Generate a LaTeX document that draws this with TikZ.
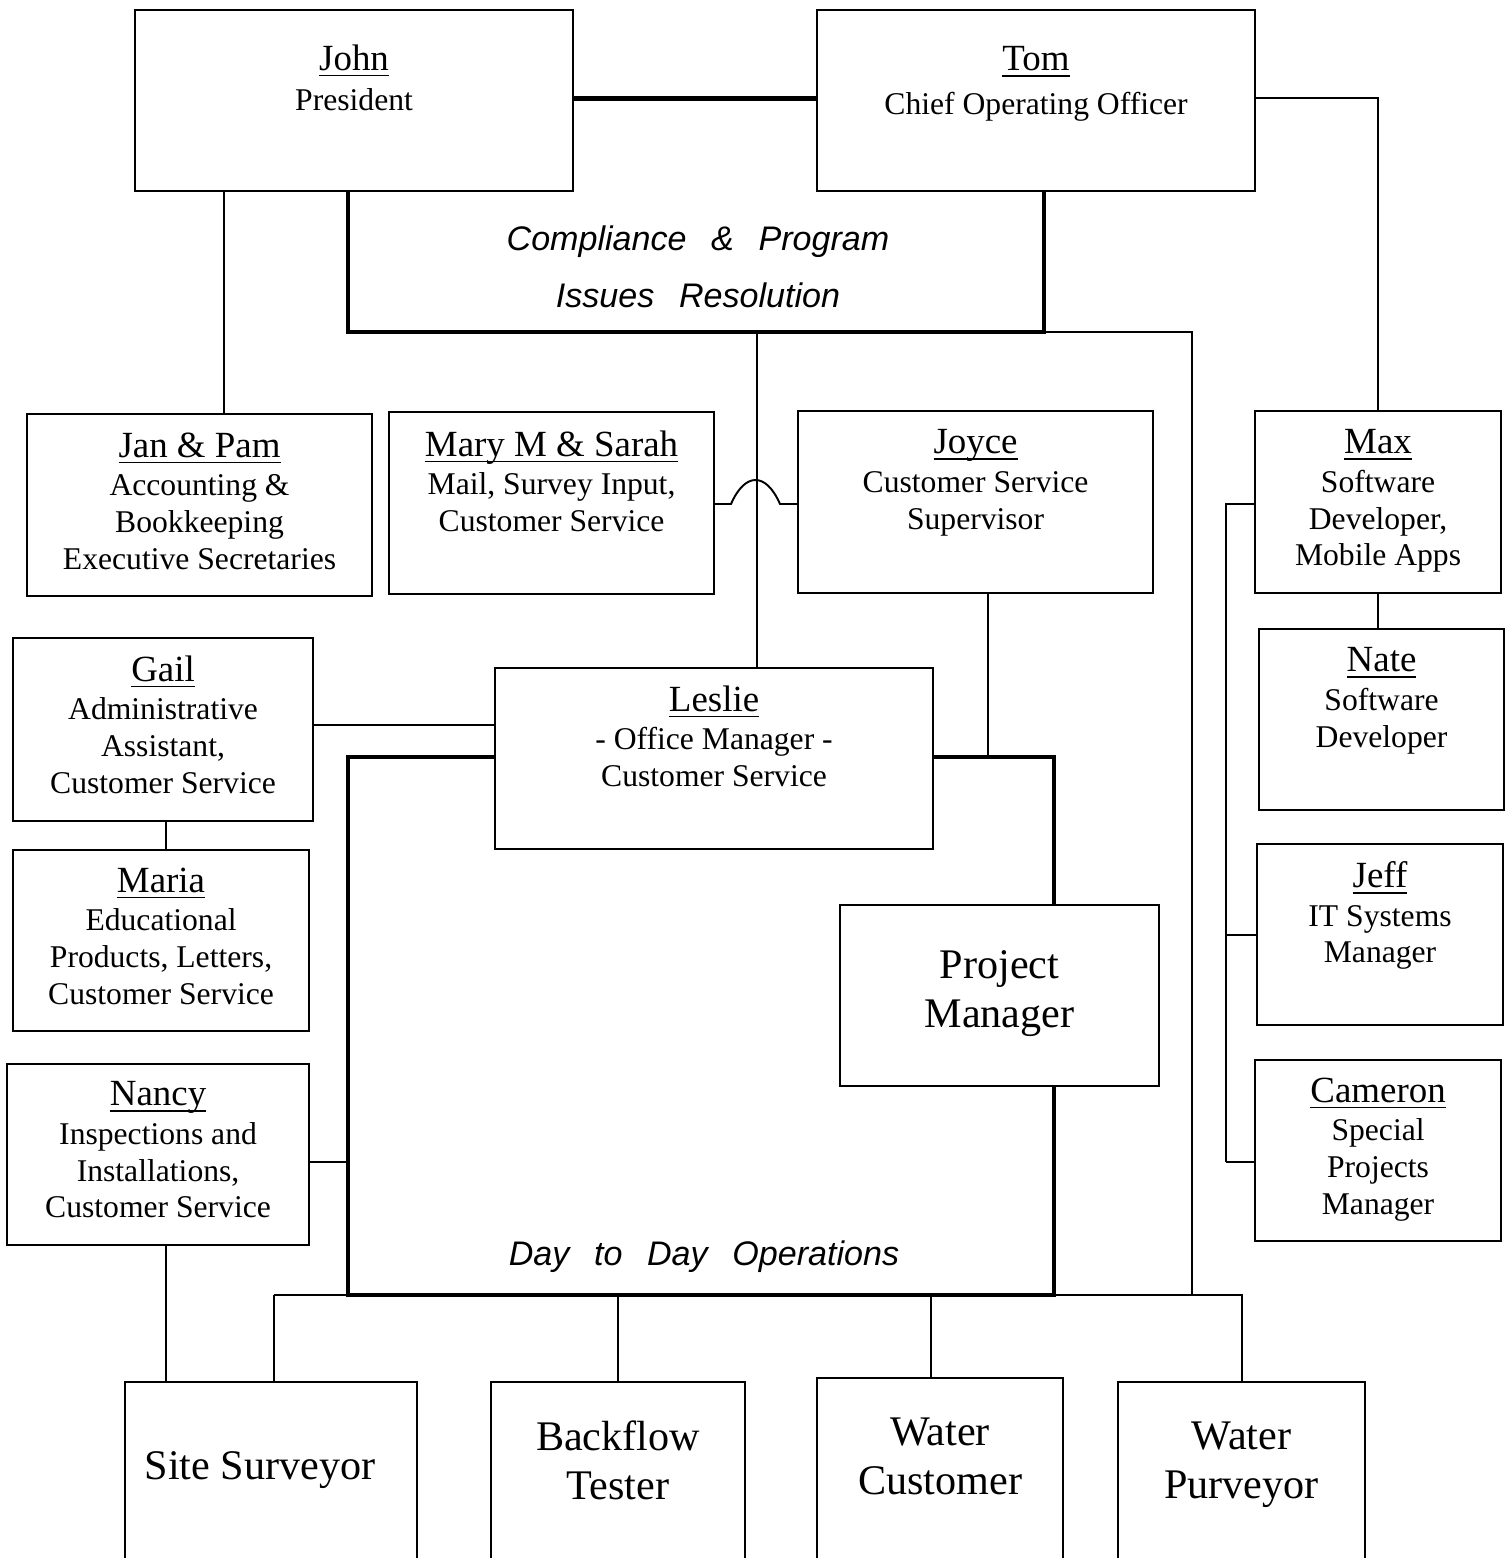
\documentclass[tikz,border=0pt]{standalone}
\usepackage{amsmath}
\usepackage{fontspec}
\setmainfont{Liberation Serif}
\newfontfamily\opsfont[WordSpace=2.6]{Liberation Sans}
\usetikzlibrary{positioning}

\newcommand{\who}[1]{{\fontsize{10.5}{11}\selectfont\underline{\smash[b]{#1}}}}

\tikzset{
  box/.style 2 args={draw, line width=0.6pt, anchor=north west, inner sep=0pt,
    minimum width=#1cm, minimum height=#2cm},
  role/.style={align=center, inner sep=0pt, font=\fontsize{9}{10.45}\selectfont},
  big/.style={align=center, inner sep=0pt, font=\fontsize{12}{14}\selectfont},
  ops/.style={align=center, inner sep=0pt, font=\opsfont\itshape\fontsize{9.7}{16.2}\selectfont},
  link/.style={line width=0.55pt},
  heavy/.style={line width=1.4pt}
}

\begin{document}
\begin{tikzpicture}
\useasboundingbox[fill=white] (0,0) rectangle (15.1,-15.58);

% top level
\node[box={4.38}{1.81}] (john) at (1.34,-0.09) {};
\node[box={4.38}{1.81}] (tom) at (8.16,-0.09) {};
\node[role, below=0.35cm of john.north] (johnT) {\who{John}\\[1pt] President};
\node[role, below=0.37cm of tom.north] (tomT) {\who{Tom}\\[2pt] Chief Operating Officer};

% staff row
\node[box={3.45}{1.82}] (janpam) at (0.26,-4.13) {};
\node[box={3.25}{1.82}] (mary) at (3.88,-4.11) {};
\node[box={3.55}{1.82}] (joyce) at (7.97,-4.10) {};
\node[box={2.46}{1.82}] (max) at (12.54,-4.10) {};
\node[role, below=0.19cm of janpam.north] (janpamT) {\who{Jan \& Pam}\\[0.5pt] Accounting \&\\ Bookkeeping\\ Executive Secretaries};
\node[role, below=0.19cm of mary.north] (maryT) {\who{Mary M \& Sarah}\\[0.5pt] Mail, Survey Input,\\ Customer Service};
\node[role, below=0.19cm of joyce.north] (joyceT) {\who{Joyce}\\[0.5pt] Customer Service\\ Supervisor};
\node[role, below=0.19cm of max.north] (maxT) {\who{Max}\\[0.5pt] Software\\ Developer,\\ Mobile Apps};

% office
\node[box={3.00}{1.83}] (gail) at (0.12,-6.37) {};
\node[box={4.38}{1.81}] (leslie) at (4.94,-6.67) {};
\node[box={2.45}{1.81}] (nate) at (12.58,-6.28) {};
\node[box={2.96}{1.81}] (maria) at (0.12,-8.49) {};
\node[box={2.46}{1.81}] (jeff) at (12.56,-8.43) {};
\node[box={3.19}{1.81}] (pm) at (8.39,-9.04) {};
\node[box={3.02}{1.81}] (nancy) at (0.06,-10.63) {};
\node[box={2.46}{1.81}] (cameron) at (12.54,-10.59) {};
\node[role, below=0.18cm of gail.north] (gailT) {\who{Gail}\\[0.5pt] Administrative\\ Assistant,\\ Customer Service};
\node[role, below=0.18cm of leslie.north] (leslieT) {\who{Leslie}\\[0.5pt] - Office Manager -\\ Customer Service};
\node[role, below=0.19cm of nate.north] (nateT) {\who{Nate}\\[0.5pt] Software\\ Developer};
\node[role, below=0.18cm of maria.north] (mariaT) {\who{Maria}\\[0.5pt] Educational\\ Products, Letters,\\ Customer Service};
\node[role, below=0.18cm of jeff.north] (jeffT) {\who{Jeff}\\[0.5pt] IT Systems\\ Manager};
\node[big, below=0.46cm of pm.north] (pmT) {Project\\ Manager};
\node[role, below=0.18cm of nancy.north] (nancyT) {\who{Nancy}\\[0.5pt] Inspections and\\ Installations,\\ Customer Service};
\node[role, below=0.18cm of cameron.north] (cameronT) {\who{Cameron}\\[0.5pt] Special\\ Projects\\ Manager};

% field
\node[box={2.92}{2.20}] (site) at (1.24,-13.81) {};
\node[box={2.54}{2.20}] (backflow) at (4.90,-13.81) {};
\node[box={2.46}{2.24}] (wcust) at (8.16,-13.77) {};
\node[box={2.47}{2.20}] (wpurv) at (11.17,-13.81) {};
\node[big, below=0.70cm of site.north, xshift=-0.11cm] (siteT) {Site Surveyor};
\node[big, below=0.39cm of backflow.north] (backflowT) {Backflow\\ Tester};
\node[big, below=0.40cm of wcust.north] (wcustT) {Water\\ Customer};
\node[big, below=0.40cm of wpurv.north] (wpurvT) {Water\\ Purveyor};

% group captions
\node[ops, anchor=north] (cpT) at (6.98,-2.25) {Compliance \& Program\\ Issues Resolution};
\node[ops, anchor=base] (ddT) at (7.04,-12.65) {Day to Day Operations};

% corners
\coordinate (cpL) at (3.48,-3.32);
\coordinate (cpR) at (10.44,-3.32);
\coordinate (cpM) at (7.57,-3.32);
\coordinate (dTL) at (3.48,-7.57);
\coordinate (dTR) at (10.54,-7.57);
\coordinate (dBL) at (3.48,-12.95);
\coordinate (dBR) at (10.54,-12.95);
\coordinate (busL) at (2.74,-12.95);
\coordinate (busR) at (11.92,-12.95);
\coordinate (jy) at (9.88,-7.57);
\coordinate (jp) at (2.24,-1.90);
\coordinate (hopL) at (7.31,-5.04);
\coordinate (hopR) at (7.80,-5.04);

% heavy lines
\draw[heavy] ([yshift=0.025cm]john.east) -- ([yshift=0.025cm]tom.west);
\draw[heavy] (cpL |- john.south) -- (cpL) -- (cpR) -- (cpR |- tom.south);
\draw[heavy] (leslie.west |- dTL) -- (dTL) -- (dBL) -- (dBR) -- (pm.south -| dBR);
\draw[heavy] (leslie.east |- dTR) -- (dTR) -- (dTR |- pm.north);

% links
\draw[link] (jp) -- (jp |- janpam.north);
\draw[link] ([yshift=0.025cm]tom.east) -| (max.north);
\draw[link] (cpR) -| (busR);
\draw[link] (cpM) -- (cpM |- leslie.north);
\draw[link] (hopL -| mary.east) -- (hopL) .. controls (7.45,-4.72) and (7.66,-4.72) .. (hopR) -- (hopR -| joyce.west);
\draw[link] (jy) -- (jy |- joyce.south);
\draw[link] ([yshift=0.05cm]gail.east) -- ([yshift=0.05cm]gail.east -| leslie.west);
\draw[link] ([xshift=0.03cm]gail.south) -- ([xshift=0.03cm]gail.south |- maria.north);
\draw[link] ([yshift=-0.07cm]nancy.east) -- ([yshift=-0.07cm]nancy.east -| dBL);
\draw[link] ([xshift=0.08cm]nancy.south) -- ([xshift=0.08cm]nancy.south |- site.north);
\draw[link] (busL) -- (busL -| wpurv.north) -- (wpurv.north);
\draw[link] (busL) -- (busL |- site.north);
\draw[link] (backflow.north |- busL) -- (backflow.north);
\draw[link] ([xshift=-0.09cm]wcust.north |- busL) -- ([xshift=-0.09cm]wcust.north);
\draw[link] (max.south) -- (max.south |- nate.north);
\draw[link] ([yshift=-0.02cm]max.west) -- ++(-0.28,0) coordinate (rbT) -- (rbT |- cameron.west) ++(0,-0.11) coordinate (rbB) -- (rbB -| cameron.west);
\draw[link] (rbT) -- (rbB);
\draw[link] (rbT |- jeff.west) -- (jeff.west);
\end{tikzpicture}
\end{document}
